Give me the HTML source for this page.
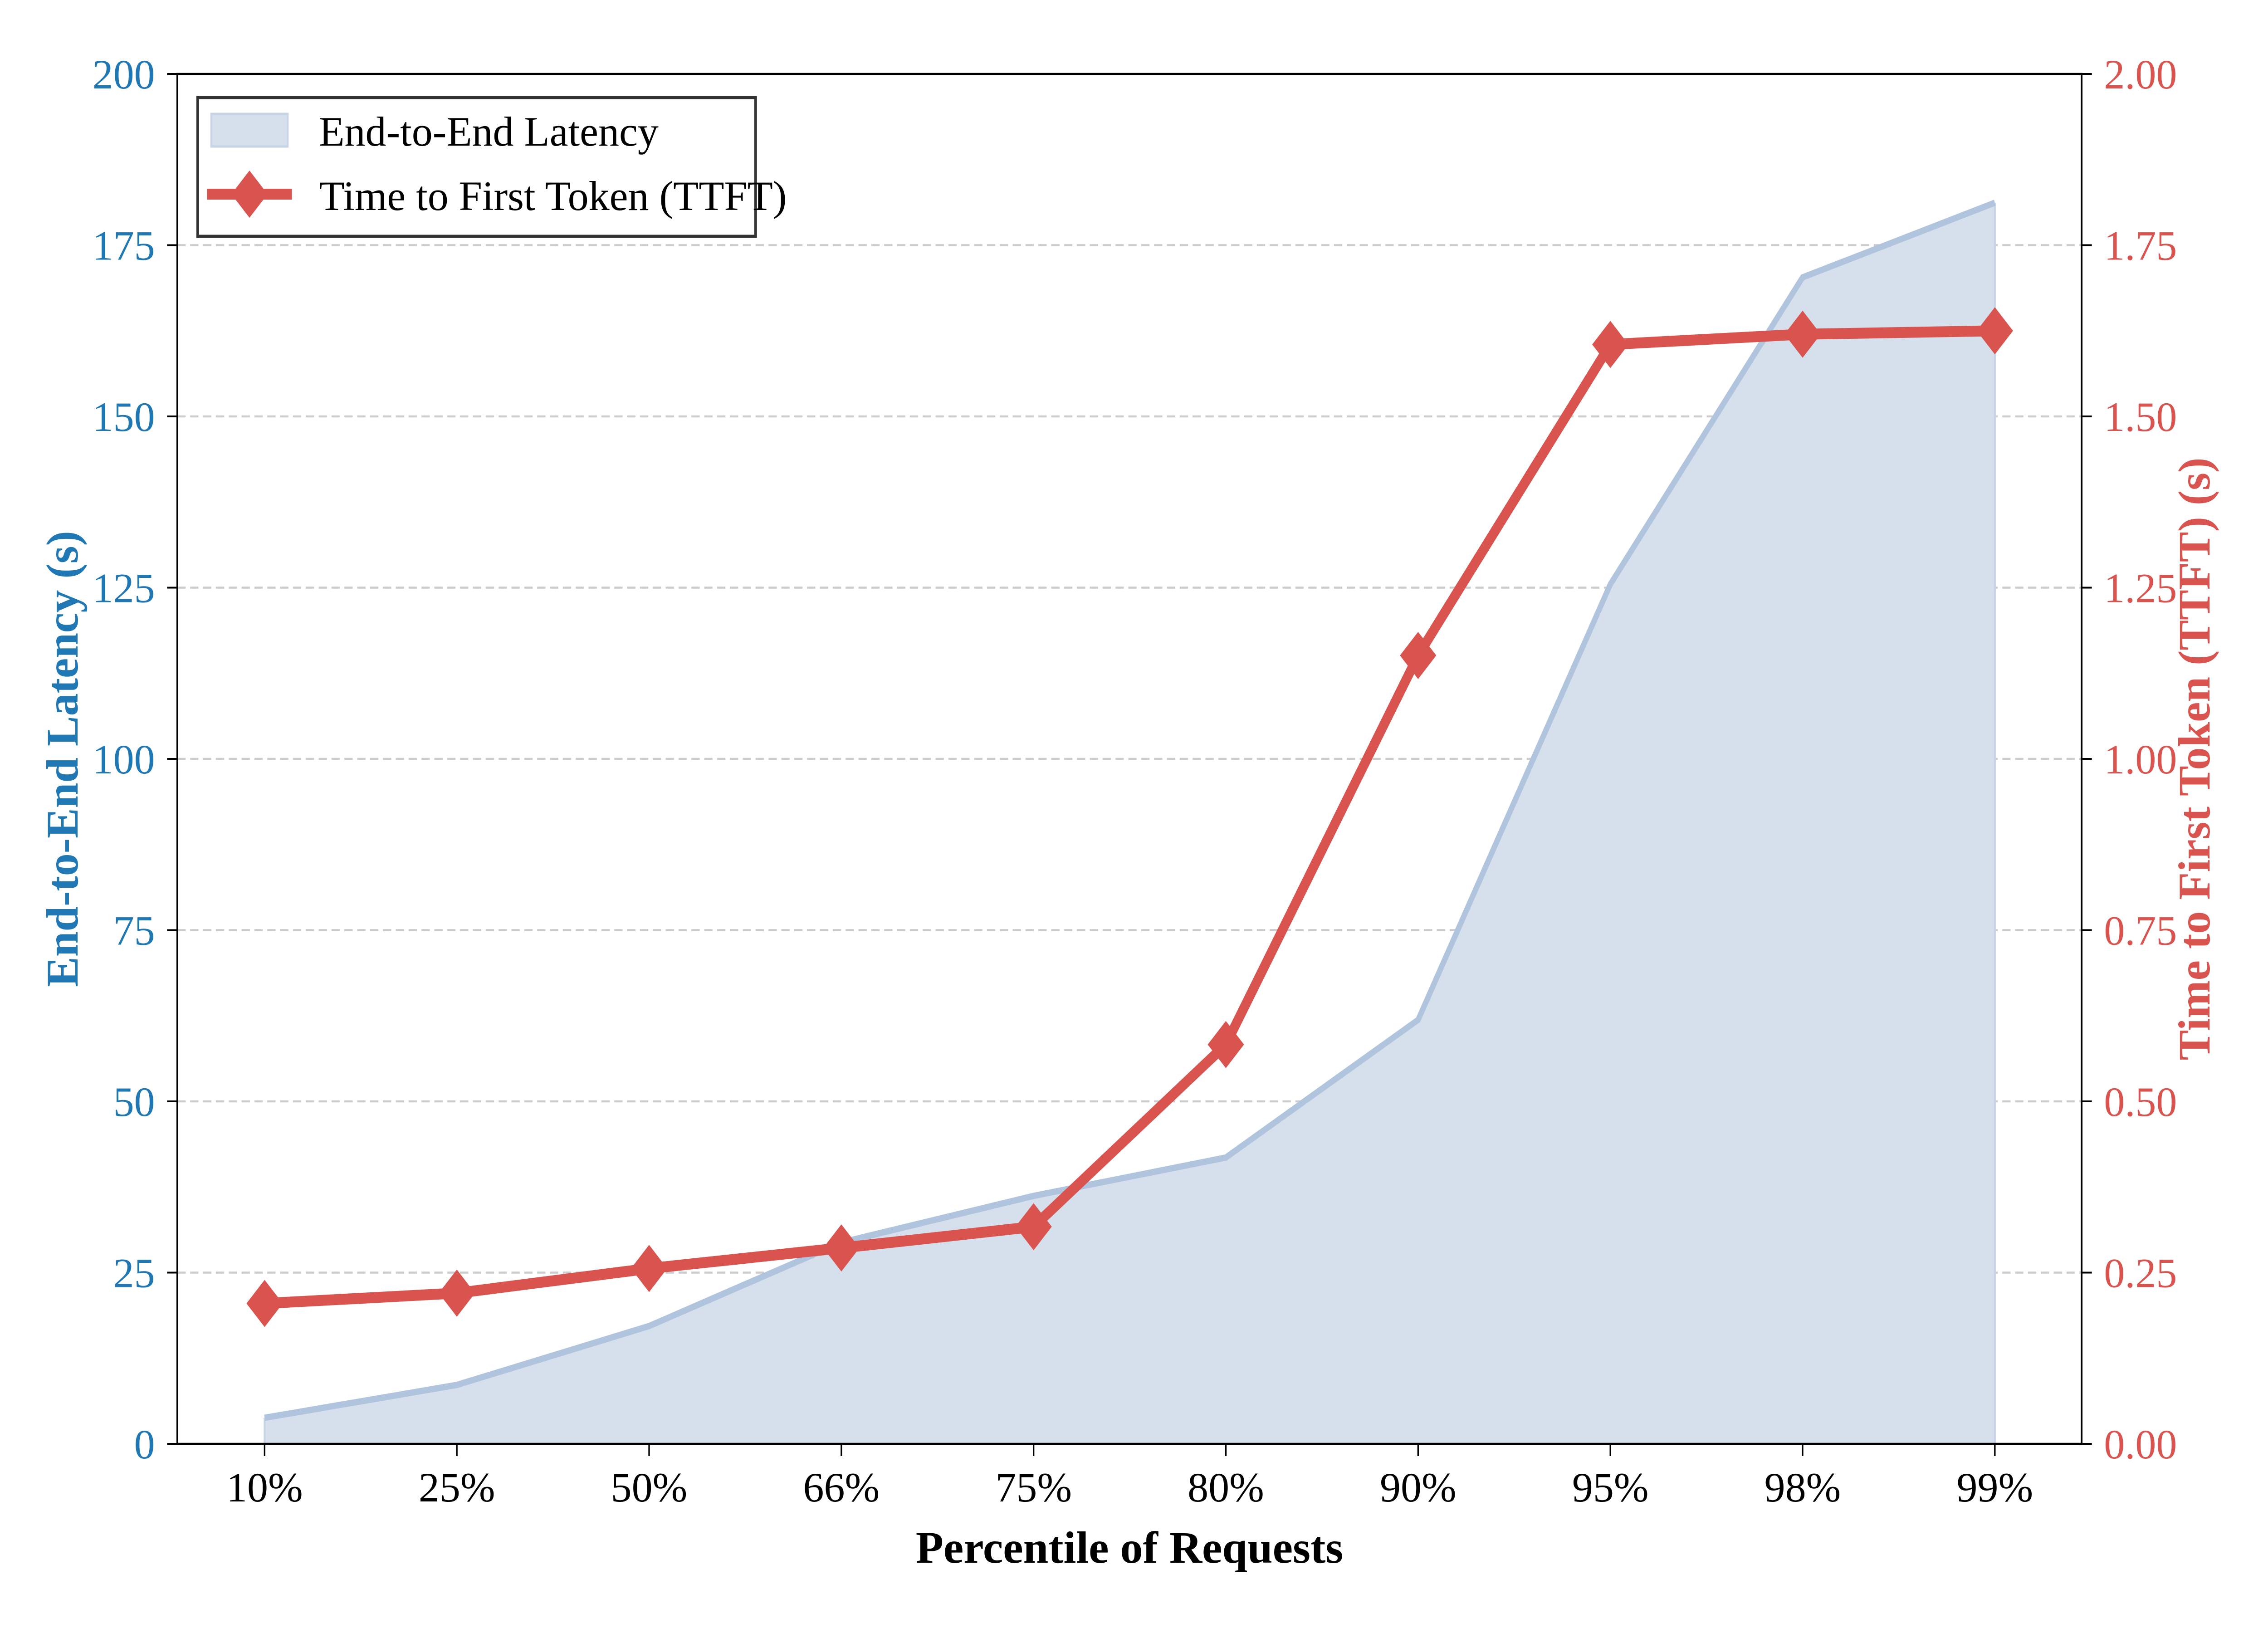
<!DOCTYPE html>
<html><head><meta charset="utf-8"><style>html,body{margin:0;padding:0;background:#fff;width:100%;height:100%;overflow:hidden}svg{display:block;width:100vw;height:100vh}</style></head>
<body>
<svg id="c" viewBox="0 0 6000 3600" preserveAspectRatio="none" xmlns="http://www.w3.org/2000/svg" font-family="'Liberation Serif', serif">
<rect width="6000" height="3600" fill="#fff"/>
<g stroke="#cccccc" stroke-width="4.5" stroke-dasharray="22,12">
<line x1="469" x2="5507" y1="2805.5" y2="2805.5"/><line x1="469" x2="5507" y1="2428" y2="2428"/>
<line x1="469" x2="5507" y1="2050.5" y2="2050.5"/><line x1="469" x2="5507" y1="1673" y2="1673"/>
<line x1="469" x2="5507" y1="1295.5" y2="1295.5"/><line x1="469" x2="5507" y1="918" y2="918"/>
<line x1="469" x2="5507" y1="540.5" y2="540.5"/>
</g>
<polygon fill="#d6e0ec" points="700,3183 700,3125.6 1208.6,3053.1 1717.2,2923.3 2225.8,2739.1 2734.4,2636.4 3243,2551.8 3751.6,2248.3 4260.2,1288 4768.8,611.5 5277.4,446.9 5277.4,3183"/>
<line x1="5277.4" x2="5277.4" y1="446.9" y2="3183" stroke="#c6d4e6" stroke-width="5"/>
<line x1="700" x2="700" y1="3125.6" y2="3183" stroke="#c6d4e6" stroke-width="5"/>
<polyline fill="none" stroke="#b0c4de" stroke-width="14" points="700,3125.6 1208.6,3053.1 1717.2,2923.3 2225.8,2739.1 2734.4,2636.4 3243,2551.8 3751.6,2248.3 4260.2,1288 4768.8,611.5 5277.4,446.9"/>
<polyline fill="none" stroke="#d9534f" stroke-width="24" stroke-linejoin="round" points="700,2873.5 1208.6,2850.8 1717.2,2796.4 2225.8,2751.1 2734.4,2704.3 3243,2302.7 3751.6,1445 4260.2,759.4 4768.8,736.8 5277.4,729.3"/>
<g fill="#d9534f">
<path class="m" d="M700,2821.5l40,52l-40,52l-40,-52z"/><path class="m" d="M1208.6,2798.8l40,52l-40,52l-40,-52z"/>
<path class="m" d="M1717.2,2744.4l40,52l-40,52l-40,-52z"/><path class="m" d="M2225.8,2699.1l40,52l-40,52l-40,-52z"/>
<path class="m" d="M2734.4,2652.3l40,52l-40,52l-40,-52z"/><path class="m" d="M3243,2250.7l40,52l-40,52l-40,-52z"/>
<path class="m" d="M3751.6,1393l40,52l-40,52l-40,-52z"/><path class="m" d="M4260.2,707.4l40,52l-40,52l-40,-52z"/>
<path class="m" d="M4768.8,684.8l40,52l-40,52l-40,-52z"/><path class="m" d="M5277.4,677.3l40,52l-40,52l-40,-52z"/>
</g>
<rect x="469" y="163" width="5038" height="3020" fill="none" stroke="#000" stroke-width="4.5"/>
<g stroke="#000" stroke-width="4">
<line x1="442" x2="469" y1="3183" y2="3183"/><line x1="442" x2="469" y1="2805.5" y2="2805.5"/><line x1="442" x2="469" y1="2428" y2="2428"/><line x1="442" x2="469" y1="2050.5" y2="2050.5"/><line x1="442" x2="469" y1="1673" y2="1673"/><line x1="442" x2="469" y1="1295.5" y2="1295.5"/><line x1="442" x2="469" y1="918" y2="918"/><line x1="442" x2="469" y1="540.5" y2="540.5"/><line x1="442" x2="469" y1="163" y2="163"/>
<line x1="5507" x2="5534" y1="3183" y2="3183"/><line x1="5507" x2="5534" y1="2805.5" y2="2805.5"/><line x1="5507" x2="5534" y1="2428" y2="2428"/><line x1="5507" x2="5534" y1="2050.5" y2="2050.5"/><line x1="5507" x2="5534" y1="1673" y2="1673"/><line x1="5507" x2="5534" y1="1295.5" y2="1295.5"/><line x1="5507" x2="5534" y1="918" y2="918"/><line x1="5507" x2="5534" y1="540.5" y2="540.5"/><line x1="5507" x2="5534" y1="163" y2="163"/>
<line x1="700" x2="700" y1="3183" y2="3210"/><line x1="1208.6" x2="1208.6" y1="3183" y2="3210"/><line x1="1717.2" x2="1717.2" y1="3183" y2="3210"/><line x1="2225.8" x2="2225.8" y1="3183" y2="3210"/><line x1="2734.4" x2="2734.4" y1="3183" y2="3210"/><line x1="3243" x2="3243" y1="3183" y2="3210"/><line x1="3751.6" x2="3751.6" y1="3183" y2="3210"/><line x1="4260.2" x2="4260.2" y1="3183" y2="3210"/><line x1="4768.8" x2="4768.8" y1="3183" y2="3210"/><line x1="5277.4" x2="5277.4" y1="3183" y2="3210"/>
</g>
<g font-size="92" fill="#1f77b4" text-anchor="end">
<text class="s" x="410" y="3215">0</text><text class="s" x="410" y="2837.5">25</text><text class="s" x="410" y="2460">50</text><text class="s" x="410" y="2082.5">75</text><text class="s" x="410" y="1705">100</text><text class="s" x="410" y="1327.5">125</text><text class="s" x="410" y="950">150</text><text class="s" x="410" y="572.5">175</text><text class="s" x="410" y="195">200</text>
</g>
<g font-size="92" fill="#d9534f">
<text class="s" x="5566" y="3215">0.00</text><text class="s" x="5566" y="2837.5">0.25</text><text class="s" x="5566" y="2460">0.50</text><text class="s" x="5566" y="2082.5">0.75</text><text class="s" x="5566" y="1705">1.00</text><text class="s" x="5566" y="1327.5">1.25</text><text class="s" x="5566" y="950">1.50</text><text class="s" x="5566" y="572.5">1.75</text><text class="s" x="5566" y="195">2.00</text>
</g>
<g font-size="92" fill="#000" text-anchor="middle">
<text class="s" x="700" y="3310">10%</text><text class="s" x="1208.6" y="3310">25%</text><text class="s" x="1717.2" y="3310">50%</text><text class="s" x="2225.8" y="3310">66%</text><text class="s" x="2734.4" y="3310">75%</text><text class="s" x="3243" y="3310">80%</text><text class="s" x="3751.6" y="3310">90%</text><text class="s" x="4260.2" y="3310">95%</text><text class="s" x="4768.8" y="3310">98%</text><text class="s" x="5277.4" y="3310">99%</text>
</g>
<text class="s" x="2988" y="3445" font-size="100" font-weight="bold" text-anchor="middle" fill="#000">Percentile of Requests</text>
<g class="r" data-x="205" data-y="1673" transform="translate(205,1673)"><text transform="rotate(-90)" font-size="100" font-weight="bold" text-anchor="middle" fill="#1f77b4">End-to-End Latency (s)</text></g>
<g class="r" data-x="5845" data-y="1673" transform="translate(5845,1673)"><text transform="rotate(-90)" font-size="100" font-weight="bold" text-anchor="middle" fill="#d9534f">Time to First Token (TTFT) (s)</text></g>
<rect x="523" y="215" width="1476" height="306" fill="#fff" stroke="#333" stroke-width="7"/>
<rect x="559" y="251" width="202" height="72" fill="#d6e0ec" stroke="#c6d4e6" stroke-width="5"/>
<text class="s" x="844" y="321" font-size="92" fill="#000">End-to-End Latency</text>
<line x1="548" x2="772" y1="428" y2="428" stroke="#d9534f" stroke-width="24"/>
<path class="m" d="M660,376l40,52l-40,52l-40,-52z" fill="#d9534f"/>
<text class="s" x="844" y="463" font-size="92" fill="#000">Time to First Token (TTFT)</text>
</svg>
<script>
(function(){
  var W=window.innerWidth,H=window.innerHeight;
  if(!W||!H)return;
  var k=(H/3600)/(W/6000);
  if(Math.abs(k-1)<0.01)return;
  var ts=document.querySelectorAll('text.s');
  for(var i=0;i<ts.length;i++){var t=ts[i];var x=parseFloat(t.getAttribute('x')),y=parseFloat(t.getAttribute('y'));
    t.setAttribute('transform','translate('+x+','+y+') scale('+k+',1) translate('+(-x)+','+(-y)+')');}
  var rs=document.querySelectorAll('g.r');
  for(var j=0;j<rs.length;j++){var r=rs[j];r.setAttribute('transform','translate('+r.getAttribute('data-x')+','+r.getAttribute('data-y')+') scale('+k+',1)');}
  var ms=document.querySelectorAll('.m');
  for(var m=0;m<ms.length;m++){var p=ms[m];var d=p.getAttribute('d').match(/M([\d.]+),([\d.]+)/);var cx=parseFloat(d[1]),cy=parseFloat(d[2])+52;
    p.setAttribute('transform','translate('+cx+','+cy+') scale('+k+',1) translate('+(-cx)+','+(-cy)+')');}
})();
</script>
</body></html>
